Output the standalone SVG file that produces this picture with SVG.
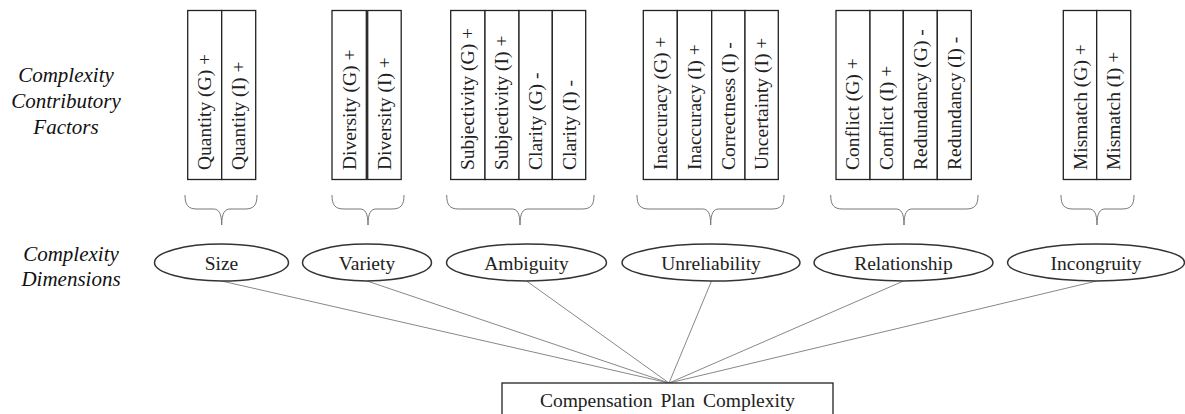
<svg xmlns="http://www.w3.org/2000/svg" width="1185" height="414" viewBox="0 0 1185 414">
<style>
.col{fill:#fff;stroke:#222;stroke-width:1.3}
.vt{font-family:"Liberation Serif","Times New Roman",serif;font-size:19.5px;fill:#222}
.lbl{font-family:"Liberation Serif","Times New Roman",serif;font-size:21px;font-style:italic;fill:#111;text-anchor:middle}
.brace{fill:none;stroke:#777;stroke-width:1}
.ell{fill:#fff;stroke:#333;stroke-width:1.5}
.et{font-family:"Liberation Serif","Times New Roman",serif;font-size:19.5px;fill:#222;text-anchor:middle}
.con{stroke:#888;stroke-width:1;fill:none}
</style>
<rect width="1185" height="414" fill="#fff"/>
<g id="labels">
<text class="lbl" x="66" y="82">Complexity</text>
<text class="lbl" x="66" y="108">Contributory</text>
<text class="lbl" x="66" y="134">Factors</text>
<text class="lbl" x="71" y="261">Complexity</text>
<text class="lbl" x="71" y="286">Dimensions</text>
</g>
<g id="connectors">
<line class="con" x1="221.5" y1="281" x2="669" y2="383"/>
<line class="con" x1="367" y1="281" x2="669" y2="383"/>
<line class="con" x1="526.5" y1="281" x2="669" y2="383"/>
<line class="con" x1="711.5" y1="281" x2="669" y2="383"/>
<line class="con" x1="903.5" y1="281" x2="669" y2="383"/>
<line class="con" x1="1096.5" y1="281" x2="669" y2="383"/>
</g>
<g id="factors-size">
<rect class="col" x="187.7" y="10.5" width="34" height="169"/>
<rect class="col" x="221.7" y="10.5" width="34" height="169"/>
<text class="vt" transform="translate(211,170) rotate(-90)">Quantity (G) +</text>
<text class="vt" transform="translate(245,170) rotate(-90)">Quantity (I) +</text>
<path class="brace" d="M185 195 C185 205 188 209 197 209 L213.5 209 C218.5 209 221.7 213 221.7 225 C221.7 213 225 209 230 209 L245 209 C254 209 257 205 257 195"/>
</g>
<g id="factors-variety">
<rect class="col" x="332" y="10.5" width="34.3" height="169"/>
<rect class="col" x="367.7" y="10.5" width="33.5" height="169"/>
<text class="vt" transform="translate(355.5,170) rotate(-90)">Diversity (G) +</text>
<text class="vt" transform="translate(390.5,170) rotate(-90)">Diversity (I) +</text>
<path class="brace" d="M332 195 C332 205 335 209 344 209 L360 209 C365 209 368 213 368 225 C368 213 371 209 376 209 L392 209 C401 209 404 205 404 195"/>
</g>
<g id="factors-ambiguity">
<rect class="col" x="450.7" y="10.5" width="34.3" height="169"/>
<rect class="col" x="485" y="10.5" width="34" height="169"/>
<rect class="col" x="519" y="10.5" width="33.3" height="169"/>
<rect class="col" x="552.3" y="10.5" width="33.4" height="169"/>
<text class="vt" transform="translate(474,170) rotate(-90)">Subjectivity (G) +</text>
<text class="vt" transform="translate(508,170) rotate(-90)">Subjectivity (I) +</text>
<text class="vt" transform="translate(542,170) rotate(-90)">Clarity (G) -</text>
<text class="vt" transform="translate(575.5,170) rotate(-90)">Clarity (I) -</text>
<path class="brace" d="M446.7 195 C446.7 205 449.7 209 458.7 209 L512 209 C517 209 520 213 520 225 C520 213 523 209 528 209 L582 209 C591 209 594 205 594 195"/>
</g>
<g id="factors-unreliability">
<rect class="col" x="643.3" y="10.5" width="34" height="169"/>
<rect class="col" x="677.3" y="10.5" width="34.4" height="169"/>
<rect class="col" x="711.7" y="10.5" width="33.3" height="169"/>
<rect class="col" x="745" y="10.5" width="33.3" height="169"/>
<text class="vt" transform="translate(666.5,170) rotate(-90)">Inaccuracy (G) +</text>
<text class="vt" transform="translate(700.5,170) rotate(-90)">Inaccuracy (I) +</text>
<text class="vt" transform="translate(734.5,170) rotate(-90)">Correctness (I) -</text>
<text class="vt" transform="translate(768,170) rotate(-90)">Uncertainty (I) +</text>
<path class="brace" d="M637 195 C637 205 640 209 649 209 L702.7 209 C707.7 209 710.7 213 710.7 225 C710.7 213 713.7 209 718.7 209 L772 209 C781 209 784 205 784 195"/>
</g>
<g id="factors-relationship">
<rect class="col" x="836" y="10.5" width="34" height="169"/>
<rect class="col" x="870" y="10.5" width="33.3" height="169"/>
<rect class="col" x="903.3" y="10.5" width="34" height="169"/>
<rect class="col" x="937.3" y="10.5" width="34" height="169"/>
<text class="vt" transform="translate(859,170) rotate(-90)">Conflict (G) +</text>
<text class="vt" transform="translate(893,170) rotate(-90)">Conflict (I) +</text>
<text class="vt" transform="translate(926.5,170) rotate(-90)">Redundancy (G) -</text>
<text class="vt" transform="translate(960.5,170) rotate(-90)">Redundancy (I) -</text>
<path class="brace" d="M830.7 195 C830.7 205 833.7 209 842.7 209 L896 209 C901 209 904 213 904 225 C904 213 907 209 912 209 L966 209 C975 209 978 205 978 195"/>
</g>
<g id="factors-incongruity">
<rect class="col" x="1063.3" y="10.5" width="33.4" height="169"/>
<rect class="col" x="1096.7" y="10.5" width="34" height="169"/>
<text class="vt" transform="translate(1086.5,170) rotate(-90)">Mismatch (G) +</text>
<text class="vt" transform="translate(1120,170) rotate(-90)">Mismatch (I) +</text>
<path class="brace" d="M1061 195 C1061 205 1064 209 1073 209 L1089 209 C1094 209 1097 213 1097 225 C1097 213 1100 209 1105 209 L1122 209 C1131 209 1134 205 1134 195"/>
</g>
<g id="dim-size">
<ellipse class="ell" cx="221.5" cy="262.5" rx="67" ry="18.5"/>
<text class="et" x="221.5" y="269.5">Size</text>
</g>
<g id="dim-variety">
<ellipse class="ell" cx="367" cy="262.5" rx="64.5" ry="18.5"/>
<text class="et" x="367" y="269.5">Variety</text>
</g>
<g id="dim-ambiguity">
<ellipse class="ell" cx="526.5" cy="262.5" rx="80" ry="18.5"/>
<text class="et" x="526.5" y="269.5">Ambiguity</text>
</g>
<g id="dim-unreliability">
<ellipse class="ell" cx="711" cy="262.5" rx="89" ry="18.5"/>
<text class="et" x="711" y="269.5">Unreliability</text>
</g>
<g id="dim-relationship">
<ellipse class="ell" cx="903.5" cy="262.5" rx="89.5" ry="18.5"/>
<text class="et" x="903.5" y="269.5">Relationship</text>
</g>
<g id="dim-incongruity">
<ellipse class="ell" cx="1096" cy="262.5" rx="88.5" ry="18.5"/>
<text class="et" x="1096" y="269.5">Incongruity</text>
</g>
<g id="complexity">
<rect x="502" y="383" width="331" height="50" fill="#fff" stroke="#222" stroke-width="1.3"/>
<text class="et" x="667.5" y="406.5" word-spacing="3">Compensation Plan Complexity</text>
</g>
</svg>
